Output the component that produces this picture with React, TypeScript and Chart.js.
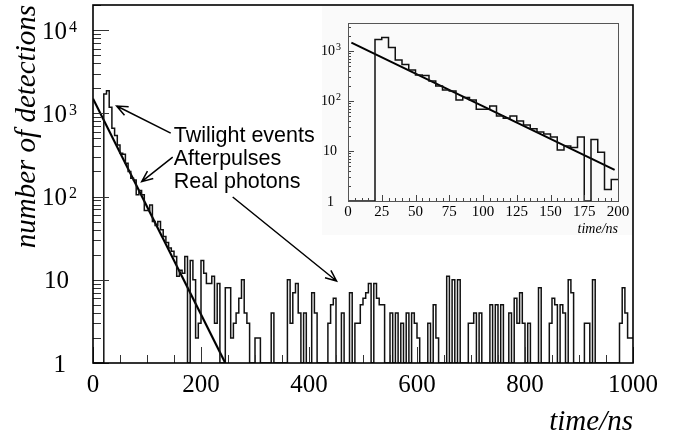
import React, { useEffect, useRef } from "react";
import { Chart, registerables } from "chart.js";

Chart.register(...registerables);

// ---------------- data ----------------
const BIN_WIDTH = 5; // ns per histogram bin

// main histogram: counts per 5 ns bin, 0 .. 1000 ns
const MAIN_COUNTS = [
  0, 0, 0, 0, 1700, 1870, 1180, 660, 540, 417,
  331, 322, 251, 200, 166, 158, 105, 118, 105, 68,
  68, 79, 50, 45, 50, 40, 33, 28, 24, 22,
  19, 11, 13, 12, 19, 0, 17, 10, 2, 3,
  17, 12, 9, 9, 11, 3, 9, 0, 0, 8,
  8, 2, 3, 4, 6, 10, 4, 3, 0, 0,
  2, 2, 0, 0, 0, 0, 4, 0, 0, 0,
  0, 0, 10, 3, 7, 9, 4, 0, 4, 0,
  0, 7, 4, 0, 0, 0, 0, 3, 5, 6,
  0, 0, 4, 0, 0, 7, 0, 3, 3, 5,
  6, 7, 9, 0, 9, 6, 5, 5, 0, 0,
  4, 0, 4, 0, 3, 0, 4, 0, 4, 3,
  2, 0, 0, 0, 3, 0, 5, 2, 0, 0,
  0, 11, 0, 10, 0, 10, 0, 0, 0, 3,
  3, 4, 0, 4, 0, 0, 0, 5, 0, 5,
  0, 5, 1, 0, 4, 0, 6, 3, 7, 3,
  0, 3, 0, 0, 0, 8, 1, 0, 0, 3,
  6, 5, 0, 5, 4, 0, 10, 7, 0, 0,
  1, 0, 3, 3, 1, 10, 0, 0, 0, 0,
  0, 0, 1, 0, 1, 3, 8, 4, 2, 2,
];

// inset histogram: counts per 5 ns bin, 0 .. 200 ns
const INSET_COUNTS = [
  0, 0, 0, 0, 1700, 1870, 1180, 660, 540, 417,
  331, 322, 251, 200, 166, 158, 105, 118, 105, 68,
  68, 79, 50, 45, 50, 40, 33, 28, 24, 22,
  19, 10.5, 12.6, 11.7, 19, 0, 17, 9.4, 1.7, 2.7,
];

// exponential fits (end points, time in ns / counts)
const MAIN_FIT_TIME = [0, 245];
const MAIN_FIT_COUNT = [1500, 1];
const INSET_FIT_TIME = [2.5, 197.5];
const INSET_FIT_COUNT = [1470, 4.2];

const MAIN_X_RANGE = [0, 1000];
const MAIN_Y_RANGE = [1, 20000];
const INSET_X_RANGE = [0, 200];
const INSET_Y_RANGE = [1, 3630];

const MAIN_X_LABELS = [0, 200, 400, 600, 800, 1000];
const MAIN_Y_LABELS = [1, 10, 100, 1000, 10000];
const MAIN_X_MINOR = 50;
const MAIN_X_MAJOR = 200;
const INSET_X_LABELS = [0, 25, 50, 75, 100, 125, 150, 175, 200];
const INSET_Y_LABELS = [1, 10, 100, 1000];
const INSET_X_MINOR = 5;
const INSET_X_MAJOR = 25;

const X_TITLE = "time/ns";
const Y_TITLE = "number of detections";
const NOTE_LINES = ["Twilight events", "Afterpulses", "Real photons"];
const NOTE_TIME = 149.5;
const NOTE_COUNT = 458;
// arrows in data units (time ns, counts)
const ARROW_FROM_TIME = [143.9, 147.6, 258.7];
const ARROW_FROM_COUNT = [578, 298, 98.6];
const ARROW_TO_TIME = [43.9, 90.2, 451];
const ARROW_TO_COUNT = [1222, 151, 9.66];

// ---------------- helpers ----------------
const SERIF = "'Liberation Serif', 'Times New Roman', serif";
const SANS = "'Liberation Sans', Arial, sans-serif";

function stepPoints(counts: number[], floor: number) {
  const pts = counts.map((c, i) => ({ x: i * BIN_WIDTH, y: Math.max(c, floor) }));
  pts.push({ x: counts.length * BIN_WIDTH, y: Math.max(counts[counts.length - 1], floor) });
  return pts;
}

function fitPoints(t: number[], n: number[]) {
  return t.map((x, i) => ({ x, y: n[i] }));
}

function seg(ctx: CanvasRenderingContext2D, x1: number, y1: number, x2: number, y2: number) {
  ctx.beginPath();
  ctx.moveTo(x1, y1);
  ctx.lineTo(x2, y2);
  ctx.stroke();
}

function arrow(ctx: CanvasRenderingContext2D, x1: number, y1: number, x2: number, y2: number) {
  const head = 12;
  const ang = 0.4;
  const a = Math.atan2(y2 - y1, x2 - x1);
  ctx.beginPath();
  ctx.moveTo(x1, y1);
  ctx.lineTo(x2, y2);
  ctx.moveTo(x2 - head * Math.cos(a - ang), y2 - head * Math.sin(a - ang));
  ctx.lineTo(x2, y2);
  ctx.lineTo(x2 - head * Math.cos(a + ang), y2 - head * Math.sin(a + ang));
  ctx.stroke();
}

function logTicks(min: number, max: number) {
  const out: { v: number; major: boolean }[] = [];
  for (let d = Math.floor(Math.log10(min)); d <= Math.ceil(Math.log10(max)); d++) {
    for (let m = 1; m <= 9; m++) {
      const v = m * Math.pow(10, d);
      if (v < min || v > max) continue;
      out.push({ v, major: m === 1 });
    }
  }
  return out;
}

function powLabel(
  ctx: CanvasRenderingContext2D,
  v: number,
  y: number,
  xRight: number,
  big: number,
  small: number,
  baseOff: number,
  supOff: number,
  supGap: number
) {
  const exp = Math.round(Math.log10(v));
  ctx.fillStyle = "#000";
  ctx.textBaseline = "alphabetic";
  ctx.font = `${big}px ${SERIF}`;
  if (exp <= 1) {
    ctx.textAlign = "right";
    ctx.fillText(String(v), xRight + (exp === 0 ? -1 : 2), y + baseOff);
    return;
  }
  ctx.textAlign = "right";
  ctx.fillText("10", xRight, y + baseOff);
  ctx.font = `${small}px ${SERIF}`;
  ctx.textAlign = "left";
  ctx.fillText(String(exp), xRight + supGap, y + supOff);
}

// ---------------- plugins ----------------
const mainDecor = {
  id: "mainDecor",
  afterDatasetsDraw(chart: any) {
    const ctx: CanvasRenderingContext2D = chart.ctx;
    const { left, right, top, bottom } = chart.chartArea;
    const xs = chart.scales.x;
    const ys = chart.scales.y;
    ctx.save();
    // ticks
    ctx.strokeStyle = "#333";
    ctx.lineWidth = 1;
    for (let t = MAIN_X_RANGE[0]; t <= MAIN_X_RANGE[1]; t += MAIN_X_MINOR) {
      const px = Math.round(xs.getPixelForValue(t)) + 0.5;
      const len = t % MAIN_X_MAJOR === 0 ? 16 : 8;
      seg(ctx, px, bottom, px, bottom - len);
    }
    for (const tk of logTicks(MAIN_Y_RANGE[0], MAIN_Y_RANGE[1])) {
      const py = Math.round(ys.getPixelForValue(tk.v)) + 0.5;
      seg(ctx, left, py, left + (tk.major ? 16 : 8), py);
    }
    // frame
    ctx.strokeStyle = "#000";
    ctx.lineWidth = 1.6;
    ctx.strokeRect(left, top, right - left, bottom - top);

    // y labels
    for (const v of MAIN_Y_LABELS) {
      powLabel(ctx, v, ys.getPixelForValue(v), 67, 25, 16, 8.5, 1.5, 2);
    }
    // x labels
    ctx.font = `25px ${SERIF}`;
    ctx.textAlign = "center";
    ctx.textBaseline = "alphabetic";
    for (const t of MAIN_X_LABELS) {
      ctx.fillText(String(t), xs.getPixelForValue(t), bottom + 29);
    }
    // axis titles
    ctx.font = `italic 29px ${SERIF}`;
    ctx.textAlign = "right";
    ctx.fillText(X_TITLE, right, 430);
    ctx.save();
    ctx.translate(35, top);
    ctx.rotate(-Math.PI / 2);
    ctx.textAlign = "right";
    ctx.fillText(Y_TITLE, 0, 0);
    ctx.restore();

    // annotations
    ctx.font = `21.5px ${SANS}`;
    ctx.textAlign = "left";
    const nx = xs.getPixelForValue(NOTE_TIME);
    const ny = ys.getPixelForValue(NOTE_COUNT);
    NOTE_LINES.forEach((s, i) => ctx.fillText(s, nx, ny + i * 23));
    ctx.strokeStyle = "#000";
    ctx.lineWidth = 1.5;
    for (let i = 0; i < ARROW_FROM_TIME.length; i++) {
      arrow(
        ctx,
        xs.getPixelForValue(ARROW_FROM_TIME[i]),
        ys.getPixelForValue(ARROW_FROM_COUNT[i]),
        xs.getPixelForValue(ARROW_TO_TIME[i]),
        ys.getPixelForValue(ARROW_TO_COUNT[i])
      );
    }
    ctx.restore();
  },
};

const insetDecor = {
  id: "insetDecor",
  beforeDraw(chart: any) {
    const ctx: CanvasRenderingContext2D = chart.ctx;
    ctx.save();
    ctx.fillStyle = "#fafafa";
    ctx.fillRect(0, 0, chart.width, chart.height);
    ctx.restore();
  },
  afterDatasetsDraw(chart: any) {
    const ctx: CanvasRenderingContext2D = chart.ctx;
    const { left, right, top, bottom } = chart.chartArea;
    const xs = chart.scales.x;
    const ys = chart.scales.y;
    ctx.save();
    ctx.strokeStyle = "#444";
    ctx.lineWidth = 1;
    for (let t = INSET_X_RANGE[0]; t <= INSET_X_RANGE[1]; t += INSET_X_MINOR) {
      const px = Math.round(xs.getPixelForValue(t)) + 0.5;
      const len = t % INSET_X_MAJOR === 0 ? 6 : 3;
      seg(ctx, px, bottom, px, bottom - len);
    }
    for (const tk of logTicks(INSET_Y_RANGE[0], INSET_Y_RANGE[1])) {
      const py = Math.round(ys.getPixelForValue(tk.v)) + 0.5;
      seg(ctx, left, py, left + (tk.major ? 6 : 3), py);
    }
    ctx.strokeStyle = "#555";
    ctx.lineWidth = 1;
    ctx.strokeRect(Math.round(left) + 0.5, Math.round(top) + 0.5, Math.round(right - left), Math.round(bottom - top));

    for (const v of INSET_Y_LABELS) {
      powLabel(ctx, v, ys.getPixelForValue(v), 13, 14, 10, 4.5, -0.5, 1);
    }
    ctx.fillStyle = "#000";
    ctx.font = `15px ${SERIF}`;
    ctx.textAlign = "center";
    ctx.textBaseline = "alphabetic";
    for (const t of INSET_X_LABELS) {
      ctx.fillText(String(t), xs.getPixelForValue(t), bottom + 15);
    }
    ctx.font = `italic 14px ${SERIF}`;
    ctx.textAlign = "right";
    ctx.fillText(X_TITLE, right, bottom + 32);
    ctx.restore();
  },
};

// ---------------- component ----------------
export default function App() {
  const mainRef = useRef<HTMLCanvasElement>(null);
  const insetRef = useRef<HTMLCanvasElement>(null);

  useEffect(() => {
    const common = {
      responsive: false,
      maintainAspectRatio: false,
      animation: false as const,
      devicePixelRatio: 1,
      events: [] as any[],
      plugins: { legend: { display: false }, tooltip: { enabled: false } },
      elements: { point: { radius: 0 } },
    };

    const main = new Chart(mainRef.current as HTMLCanvasElement, {
      type: "line",
      data: {
        datasets: [
          {
            data: stepPoints(MAIN_COUNTS, MAIN_Y_RANGE[0]),
            stepped: true,
            borderColor: "#111",
            borderWidth: 1.5,
            pointRadius: 0,
            fill: false,
          },
          {
            data: fitPoints(MAIN_FIT_TIME, MAIN_FIT_COUNT),
            borderColor: "#000",
            borderWidth: 2.2,
            pointRadius: 0,
            fill: false,
          },
        ],
      },
      options: {
        ...common,
        layout: { padding: { left: 93, right: 50, top: 5, bottom: 71 } },
        scales: {
          x: { type: "linear", display: false, min: MAIN_X_RANGE[0], max: MAIN_X_RANGE[1] },
          y: { type: "logarithmic", display: false, min: MAIN_Y_RANGE[0], max: MAIN_Y_RANGE[1] },
        },
      } as any,
      plugins: [mainDecor],
    });

    const inset = new Chart(insetRef.current as HTMLCanvasElement, {
      type: "line",
      data: {
        datasets: [
          {
            data: stepPoints(INSET_COUNTS, INSET_Y_RANGE[0]),
            stepped: true,
            borderColor: "#111",
            borderWidth: 1.5,
            pointRadius: 0,
            fill: false,
          },
          {
            data: fitPoints(INSET_FIT_TIME, INSET_FIT_COUNT),
            borderColor: "#000",
            borderWidth: 2,
            pointRadius: 0,
            fill: false,
          },
        ],
      },
      options: {
        ...common,
        layout: { padding: { left: 26, right: 14, top: 17, bottom: 34 } },
        scales: {
          x: { type: "linear", display: false, min: INSET_X_RANGE[0], max: INSET_X_RANGE[1] },
          y: { type: "logarithmic", display: false, min: INSET_Y_RANGE[0], max: INSET_Y_RANGE[1] },
        },
      } as any,
      plugins: [insetDecor],
    });

    return () => {
      main.destroy();
      inset.destroy();
    };
  }, []);

  return (
    <div style={{ position: "fixed", left: 0, top: 0, width: 683, height: 434, background: "#fff" }}>
      <canvas
        ref={mainRef}
        width={683}
        height={434}
        style={{ position: "absolute", left: 0, top: 0, width: 683, height: 434 }}
      />
      <canvas
        ref={insetRef}
        width={310}
        height={229}
        style={{ position: "absolute", left: 322, top: 6, width: 310, height: 229 }}
      />
    </div>
  );
}
